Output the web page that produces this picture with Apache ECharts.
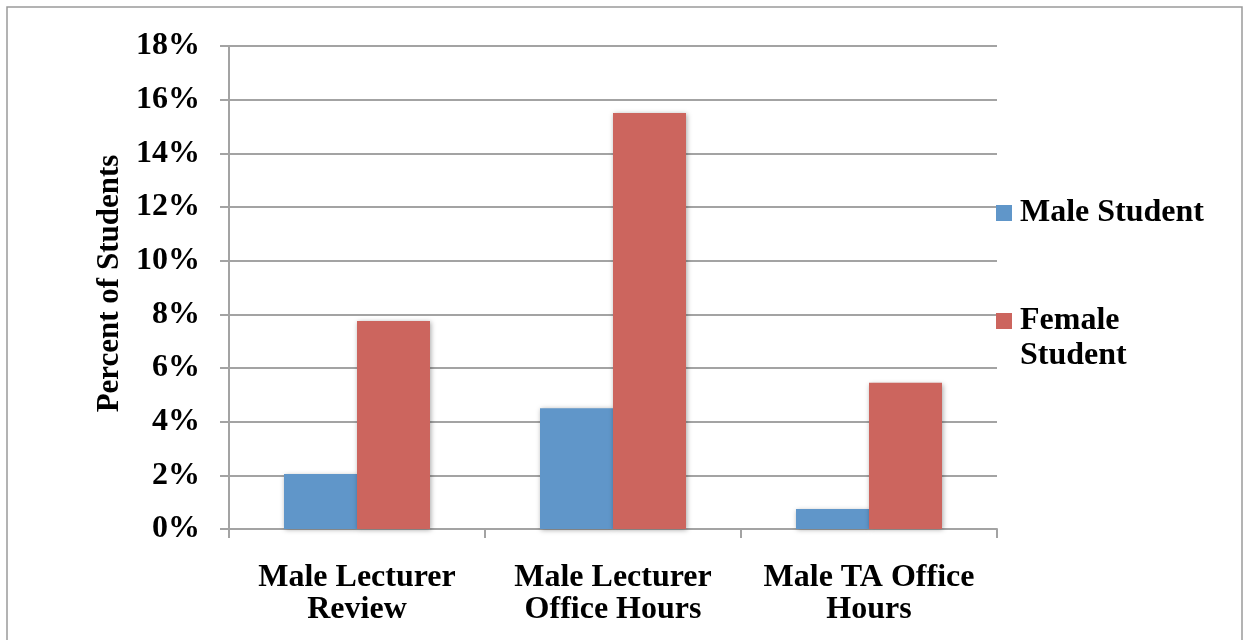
<!DOCTYPE html>
<html>
<head>
<meta charset="utf-8">
<script src="https://cdn.jsdelivr.net/npm/echarts@6/dist/echarts.min.js"></script>
<style>
  html, body { margin: 0; padding: 0; background: #fff; }
  #chart { width: 1244px; height: 640px; }
</style>
</head>
<body>
<div id="chart"></div>
<script>
// Share of students, by session type and student gender
const categories = ['Male Lecturer\nReview', 'Male Lecturer\nOffice Hours', 'Male TA Office\nHours'];
const maleStudent = [2.05, 4.5, 0.75];
const femaleStudent = [7.75, 15.5, 5.45];
const seriesNames = ['Male Student', 'Female Student'];
const yTicks = { min: 0, max: 18, interval: 2 };

const FONT = '"Liberation Serif", "Times New Roman", serif';
const gridColor = '#a3a3a3';

const chart = echarts.init(document.getElementById('chart'));

const barShadow = {
  shadowBlur: 5,
  shadowColor: 'rgba(0,0,0,0.35)',
  shadowOffsetX: 1,
  shadowOffsetY: 1
};

const legendText = {
  fontFamily: FONT,
  fontWeight: 'bold',
  fontSize: 32,
  lineHeight: 35,
  color: '#000',
  padding: [3, 0, 0, 3]
};

function legendBlock(name, top, label) {
  return {
    orient: 'vertical',
    left: 996,
    top: top,
    padding: 0,
    itemWidth: 16,
    itemHeight: 16,
    icon: 'rect',
    data: [name],
    formatter: function () { return label; },
    textStyle: legendText
  };
}

chart.setOption({
  animation: false,
  backgroundColor: '#fff',
  graphic: [{
    type: 'rect',
    shape: { x: 7, y: 7, width: 1235, height: 650 },
    style: { fill: 'none', stroke: '#9a9a9a', lineWidth: 1.5 },
    silent: true
  }],
  grid: { left: 229, right: 247, top: 46, bottom: 111 },
  legend: [
    legendBlock(seriesNames[0], 194, 'Male Student'),
    // leading blank line keeps the marker beside the first text line
    legendBlock(seriesNames[1], 267, ' \nFemale\nStudent')
  ],
  xAxis: {
    type: 'category',
    data: categories,
    axisLine: { lineStyle: { color: gridColor, width: 2 } },
    axisTick: { show: true, length: 9, lineStyle: { color: gridColor, width: 2 } },
    axisLabel: {
      margin: 33,
      fontFamily: FONT,
      fontWeight: 'bold',
      fontSize: 32,
      lineHeight: 32,
      color: '#000',
      interval: 0
    }
  },
  yAxis: {
    type: 'value',
    min: yTicks.min,
    max: yTicks.max,
    interval: yTicks.interval,
    name: 'Percent of Students',
    nameLocation: 'middle',
    nameGap: 103,
    nameTextStyle: {
      fontFamily: FONT,
      fontWeight: 'bold',
      fontSize: 31,
      color: '#000',
      padding: [0, 0, 0, 8]
    },
    axisLine: { show: true, lineStyle: { color: gridColor, width: 2 } },
    axisTick: { show: true, length: 9, lineStyle: { color: gridColor, width: 2 } },
    splitLine: { lineStyle: { color: gridColor, width: 2 } },
    axisLabel: {
      margin: 29,
      formatter: '{value}%',
      fontFamily: FONT,
      fontWeight: 'bold',
      fontSize: 32,
      color: '#000'
    }
  },
  series: [
    {
      name: seriesNames[0],
      type: 'bar',
      data: maleStudent,
      barWidth: 73,
      barGap: '0%',
      itemStyle: Object.assign({ color: '#6096c9' }, barShadow)
    },
    {
      name: seriesNames[1],
      type: 'bar',
      data: femaleStudent,
      barWidth: 73,
      barGap: '0%',
      itemStyle: Object.assign({ color: '#cc655e' }, barShadow)
    }
  ]
});
</script>
</body>
</html>
